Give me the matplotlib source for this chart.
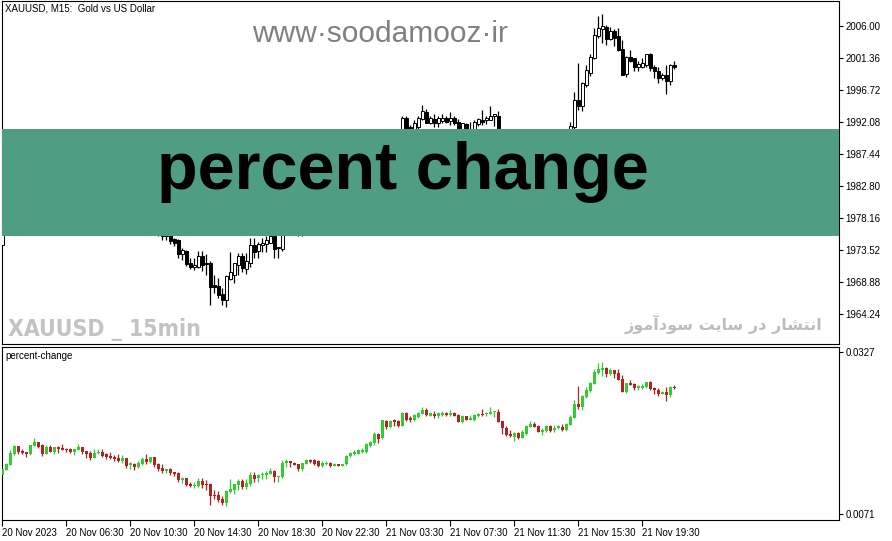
import numpy as np
import matplotlib
matplotlib.use("Agg")
import matplotlib.pyplot as plt
from matplotlib.patches import Rectangle

# XAUUSD M15 bars (bar index 0 = first visible bar)
opens = [
    1974.3, 1975.8, 1977.3, 1980.4, 1982.9, 1981.4, 1981.1, 1980.4, 1982.9, 1984.1,
    1983.1, 1980.6, 1982.7, 1981.1, 1982.6, 1982.4, 1982.1, 1982.1, 1981.2, 1981.8,
    1982.6, 1981.4, 1980.9, 1979.4, 1980.7, 1981.1, 1980.4, 1980.0, 1979.7, 1979.3,
    1978.5, 1979.3, 1977.2, 1977.7, 1976.8, 1977.6, 1979.1, 1978.2, 1979.6, 1977.7,
    1976.5, 1975.6, 1976.2, 1975.1, 1974.9, 1972.9, 1973.4, 1971.7, 1971.1, 1971.1,
    1972.7, 1971.7, 1971.7, 1968.4, 1968.3, 1967.2, 1966.2, 1969.3, 1969.9, 1971.3,
    1972.7, 1970.7, 1971.7, 1974.3, 1973.4, 1974.2, 1974.4, 1974.6, 1975.6, 1973.8,
    1973.6, 1977.8, 1978.4, 1978.0, 1977.6, 1976.2, 1977.6, 1978.8, 1978.8, 1978.5,
    1977.0, 1977.6, 1978.0, 1977.1, 1977.6, 1977.1, 1977.5, 1980.0, 1980.4, 1980.6,
    1981.0, 1981.1, 1983.0, 1983.7, 1986.4, 1985.2, 1990.2, 1988.4, 1990.5, 1990.2,
    1988.9, 1992.7, 1991.3, 1990.7, 1991.4, 1992.5, 1993.5, 1991.9, 1992.5, 1991.9,
    1992.2, 1992.7, 1992.2, 1992.7, 1992.1, 1990.1, 1991.8, 1990.7, 1990.6, 1991.8,
    1992.4, 1992.3, 1992.4, 1993.0, 1993.0, 1990.3, 1988.3, 1986.4, 1985.6, 1986.7,
    1985.4, 1986.5, 1988.5, 1989.5, 1988.9, 1987.1, 1987.3, 1988.9, 1987.5, 1988.1,
    1988.5, 1987.5, 1989.1, 1991.3, 1995.2, 1994.4, 1997.4, 1999.2, 2001.3, 2004.5,
    2005.5, 2005.9, 2004.1, 2005.3, 2004.5, 2002.7, 1999.0, 2001.5, 2001.3, 2000.1,
    2000.1, 2000.3, 2001.9, 2000.1, 1999.5, 1998.4, 1998.9, 1998.0, 2000.3,
]
highs = [
    1976.2, 1978.0, 1981.7, 1983.3, 1983.0, 1981.9, 1981.2, 1983.3, 1985.3, 1984.2,
    1983.5, 1983.1, 1983.2, 1982.6, 1982.9, 1983.5, 1982.3, 1982.4, 1982.1, 1983.5,
    1982.7, 1981.5, 1981.4, 1981.9, 1982.1, 1981.9, 1980.9, 1981.1, 1980.1, 1980.6,
    1980.1, 1979.5, 1978.2, 1977.8, 1978.5, 1979.6, 1980.5, 1979.7, 1979.7, 1977.9,
    1977.6, 1976.2, 1976.5, 1975.3, 1975.1, 1973.8, 1973.5, 1972.3, 1972.3, 1973.4,
    1973.4, 1972.9, 1971.9, 1969.9, 1969.5, 1968.0, 1969.9, 1973.2, 1971.7, 1973.1,
    1973.1, 1973.1, 1975.2, 1975.2, 1974.7, 1975.2, 1975.6, 1976.4, 1975.8, 1974.0,
    1978.8, 1979.2, 1978.6, 1978.1, 1977.7, 1978.0, 1979.2, 1979.2, 1979.2, 1978.7,
    1978.4, 1978.4, 1978.1, 1978.0, 1977.7, 1977.7, 1980.3, 1981.0, 1981.7, 1982.0,
    1982.4, 1983.8, 1984.5, 1987.0, 1986.8, 1990.7, 1990.5, 1990.7, 1991.0, 1990.7,
    1993.0, 1992.9, 1991.7, 1992.4, 1993.0, 1994.5, 1994.0, 1993.0, 1993.2, 1993.0,
    1993.2, 1992.9, 1993.5, 1993.0, 1992.5, 1992.0, 1991.9, 1992.1, 1992.3, 1992.7,
    1993.8, 1993.0, 1994.4, 1993.3, 1993.7, 1990.4, 1988.8, 1987.5, 1986.9, 1986.9,
    1987.5, 1989.1, 1990.3, 1990.1, 1989.1, 1988.1, 1989.1, 1989.0, 1989.1, 1989.1,
    1989.3, 1989.7, 1992.1, 1996.4, 2000.6, 1997.9, 2000.3, 2001.9, 2005.7, 2007.4,
    2007.8, 2006.2, 2005.9, 2005.5, 2005.7, 2003.9, 2001.6, 2002.5, 2001.4, 2000.9,
    2001.3, 2001.9, 2002.1, 2000.3, 2000.1, 1999.2, 2000.3, 2000.5, 2000.9,
]
lows = [
    1974.2, 1975.7, 1977.3, 1980.1, 1980.4, 1980.5, 1979.7, 1980.2, 1982.9, 1982.3,
    1980.0, 1980.4, 1981.0, 1980.5, 1980.9, 1981.7, 1981.1, 1980.9, 1980.2, 1981.7,
    1980.6, 1979.3, 1978.9, 1979.3, 1980.5, 1979.7, 1979.0, 1979.0, 1978.4, 1978.1,
    1978.0, 1976.5, 1976.2, 1975.9, 1976.5, 1977.4, 1977.7, 1978.0, 1976.8, 1975.6,
    1975.0, 1975.0, 1974.4, 1974.1, 1972.3, 1972.1, 1971.2, 1970.7, 1970.6, 1970.9,
    1970.5, 1969.9, 1965.5, 1967.3, 1966.5, 1965.5, 1965.2, 1969.1, 1968.7, 1969.9,
    1970.3, 1970.1, 1971.1, 1972.3, 1972.3, 1973.3, 1973.3, 1974.6, 1972.3, 1972.3,
    1973.4, 1976.8, 1976.8, 1977.2, 1975.6, 1975.6, 1977.5, 1977.8, 1977.2, 1976.7,
    1976.8, 1977.4, 1976.8, 1977.1, 1977.0, 1977.0, 1977.3, 1979.8, 1980.3, 1980.4,
    1980.7, 1980.8, 1982.6, 1983.2, 1983.9, 1985.1, 1987.8, 1988.2, 1988.9, 1988.5,
    1988.8, 1990.4, 1990.0, 1990.4, 1991.1, 1992.4, 1991.9, 1991.8, 1991.3, 1991.3,
    1991.9, 1991.9, 1991.7, 1991.7, 1990.0, 1989.8, 1990.6, 1990.6, 1990.4, 1991.5,
    1991.7, 1991.8, 1992.3, 1991.5, 1990.0, 1986.5, 1985.9, 1985.7, 1984.4, 1985.1,
    1985.2, 1986.2, 1988.5, 1988.4, 1986.9, 1986.2, 1987.1, 1987.1, 1986.9, 1987.9,
    1987.3, 1987.3, 1989.1, 1991.1, 1993.8, 1993.6, 1997.2, 1998.8, 2001.2, 2004.3,
    2003.5, 2003.3, 2004.0, 2003.1, 2002.4, 1998.9, 1998.6, 2000.8, 1999.5, 1999.4,
    1999.9, 2000.1, 1999.5, 1998.4, 1997.8, 1998.2, 1996.2, 1997.4, 1999.7,
]
closes = [
    1976.0, 1977.7, 1980.9, 1982.9, 1981.0, 1980.9, 1980.6, 1983.2, 1984.1, 1982.7,
    1980.6, 1982.7, 1981.2, 1982.6, 1981.9, 1981.7, 1981.6, 1981.1, 1982.0, 1982.7,
    1981.1, 1980.6, 1979.4, 1980.9, 1981.2, 1979.9, 1979.7, 1979.4, 1979.1, 1978.5,
    1979.3, 1977.1, 1977.8, 1976.8, 1978.0, 1979.1, 1978.1, 1979.6, 1977.4, 1976.2,
    1975.6, 1976.1, 1974.8, 1974.5, 1972.9, 1973.5, 1971.5, 1971.1, 1971.4, 1972.7,
    1971.3, 1971.5, 1968.1, 1968.1, 1967.0, 1966.2, 1969.7, 1970.3, 1971.7, 1972.7,
    1970.9, 1971.9, 1974.3, 1973.3, 1974.4, 1974.6, 1975.0, 1975.6, 1973.6, 1974.0,
    1978.0, 1978.4, 1977.8, 1977.4, 1976.2, 1977.9, 1978.8, 1978.2, 1977.6, 1977.0,
    1978.0, 1978.0, 1977.0, 1977.7, 1977.1, 1977.6, 1979.9, 1980.7, 1981.2, 1981.6,
    1981.6, 1983.5, 1984.2, 1986.4, 1984.9, 1990.5, 1988.5, 1990.4, 1989.9, 1988.9,
    1992.7, 1990.6, 1990.7, 1992.0, 1992.7, 1993.6, 1992.0, 1992.6, 1991.9, 1992.6,
    1992.7, 1992.1, 1992.7, 1991.9, 1990.1, 1991.9, 1990.7, 1991.1, 1992.1, 1992.5,
    1992.1, 1992.7, 1993.0, 1993.2, 1990.1, 1988.1, 1986.2, 1985.9, 1986.7, 1985.2,
    1986.9, 1988.9, 1989.5, 1988.5, 1987.1, 1987.7, 1988.9, 1987.3, 1988.3, 1988.7,
    1987.7, 1989.3, 1991.5, 1995.2, 1994.4, 1997.7, 1999.6, 2001.5, 2004.7, 2005.7,
    2006.0, 2004.1, 2005.3, 2004.3, 2002.5, 1998.9, 2001.5, 2000.9, 2000.1, 2000.5,
    2000.7, 2001.9, 1999.9, 1999.4, 1998.4, 1998.9, 1998.0, 2000.3, 2000.1,
]

# time axis labels, one every 16 bars
tick_bars = [0, 16, 32, 48, 64, 80, 96, 112, 128, 144, 160]
tick_labels = [
    "20 Nov 2023", "20 Nov 06:30", "20 Nov 10:30", "20 Nov 14:30",
    "20 Nov 18:30", "20 Nov 22:30", "21 Nov 03:30", "21 Nov 07:30",
    "21 Nov 11:30", "21 Nov 15:30", "21 Nov 19:30",
]
price_ticks = [2006.00, 2001.36, 1996.72, 1992.08, 1987.44,
               1982.80, 1978.16, 1973.52, 1968.88, 1964.24]
pc_ticks = [0.0327, 0.0071]

# indicator: change relative to reference price
ref_price = 1949.39
ref_div = 1877.6

o = np.array(opens)
h = np.array(highs)
l = np.array(lows)
c = np.array(closes)
pc_o, pc_h, pc_l, pc_c = [(a - ref_price) / ref_div for a in (o, h, l, c)]

W, H = 892, 541
fig = plt.figure(figsize=(W / 100, H / 100), dpi=100)
fig.patch.set_facecolor("white")

left, right = 2, 839
ax1 = fig.add_axes([left / W, 1 - 344 / H, (right - left) / W, 343 / H])
ax2 = fig.add_axes([left / W, 1 - 520 / H, (right - left) / W, 173 / H])

xlim = (-0.1, (right - left - 0.3) / 4.0)


def draw_candles(ax, o, h, l, c, up_face, up_edge, dn_face, wick_up, wick_dn, min_h, edge_lw):
    x = np.arange(len(o))
    up = c >= o
    ax.vlines(x[up], l[up], h[up], color=wick_up, lw=0.9, zorder=2)
    ax.vlines(x[~up], l[~up], h[~up], color=wick_dn, lw=0.9, zorder=2)
    bottom = np.minimum(o, c)
    height = np.maximum(np.abs(c - o), min_h)
    ax.bar(x[up], height[up], 0.72, bottom[up], color=up_face,
           edgecolor=up_edge, linewidth=edge_lw, zorder=3)
    ax.bar(x[~up], height[~up], 0.72, bottom[~up], color=dn_face,
           edgecolor=dn_face, linewidth=edge_lw, zorder=3)


# ---- price panel ----
draw_candles(ax1, o, h, l, c, "white", "black", "black", "black", "black",
             1 / 6.9, 0.7)
ax1.set_xlim(*xlim)
ax1.set_ylim(1959.89, 2009.62)
ax1.set_xticks([])
ax1.yaxis.tick_right()
ax1.set_yticks(price_ticks)
ax1.set_yticklabels([f"{v:.2f}" for v in price_ticks])
ax1.tick_params(axis="y", direction="out", length=3, width=0.8, pad=1.5,
                labelsize=7, labelfontfamily="Liberation Sans")

ax1.add_patch(Rectangle((0, 0.3149), 1, 0.3119, transform=ax1.transAxes,
                        facecolor="#4f9d82", edgecolor="none", zorder=5))
ax1.text(0.479, 0.502, "percent change", transform=ax1.transAxes,
         ha="center", va="center", fontsize=48, fontweight="bold",
         family="Liberation Sans", color="black", zorder=6)
ax1.text(0.4516, 0.905, "www\u00b7soodamooz\u00b7ir", transform=ax1.transAxes,
         ha="center", va="center", fontsize=21.5, family="Liberation Sans",
         color="#808080", zorder=6)
ax1.text(0.0072, 0.022, "XAUUSD _ 15min", transform=ax1.transAxes,
         ha="left", va="baseline", fontsize=16.5, fontweight="bold",
         fontstretch="condensed", family="DejaVu Sans", color="#c3c3c3", zorder=6)
fa_text = ("\ufeaf\ufeee\ufee3\ufe81\ufea9\ufeee\ufeb3 "
           "\ufe96\ufef3\ufe8e\ufeb3 \ufead\ufea9 "
           "\ufead\ufe8e\ufeb8\ufe98\ufee7\ufe8d")
ax1.text(0.98, 0.04, fa_text, transform=ax1.transAxes,
         ha="right", va="baseline", fontsize=11.5, fontweight="bold",
         family=["DejaVu Sans"], color="#bdbdbd", zorder=6)
ax1.text(0.0036, 0.977, "XAUUSD, M15:  Gold vs US Dollar", transform=ax1.transAxes,
         ha="left", va="center", fontsize=7, family="Liberation Sans",
         color="black", zorder=6)

# ---- indicator panel ----
draw_candles(ax2, pc_o, pc_h, pc_l, pc_c, "#32cd32", "#32cd32", "#b22222",
             "#32cd32", "#b22222", 1 / 6352, 0.0)
ax2.set_xlim(*xlim)
ax2.set_ylim(0.00620, 0.03344)
ax2.yaxis.tick_right()
ax2.set_yticks(pc_ticks)
ax2.set_yticklabels([f"{v:.4f}" for v in pc_ticks])
ax2.tick_params(axis="y", direction="out", length=3, width=0.8, pad=1.5,
                labelsize=7, labelfontfamily="Liberation Sans")
ax2.set_xticks(tick_bars)
ax2.set_xticklabels(tick_labels, ha="left")
ax2.tick_params(axis="x", direction="out", length=4, width=0.8, pad=1.5,
                labelsize=7, labelfontfamily="Liberation Sans")
ax2.text(0.0036, 0.948, "percent-change", transform=ax2.transAxes,
         ha="left", va="center", fontsize=7, family="Liberation Sans", color="black")

for ax in (ax1, ax2):
    ax.set_facecolor("white")
    for sp in ax.spines.values():
        sp.set_color("black")
        sp.set_linewidth(0.8)

fig.savefig("out.png", dpi=100, facecolor="white")
